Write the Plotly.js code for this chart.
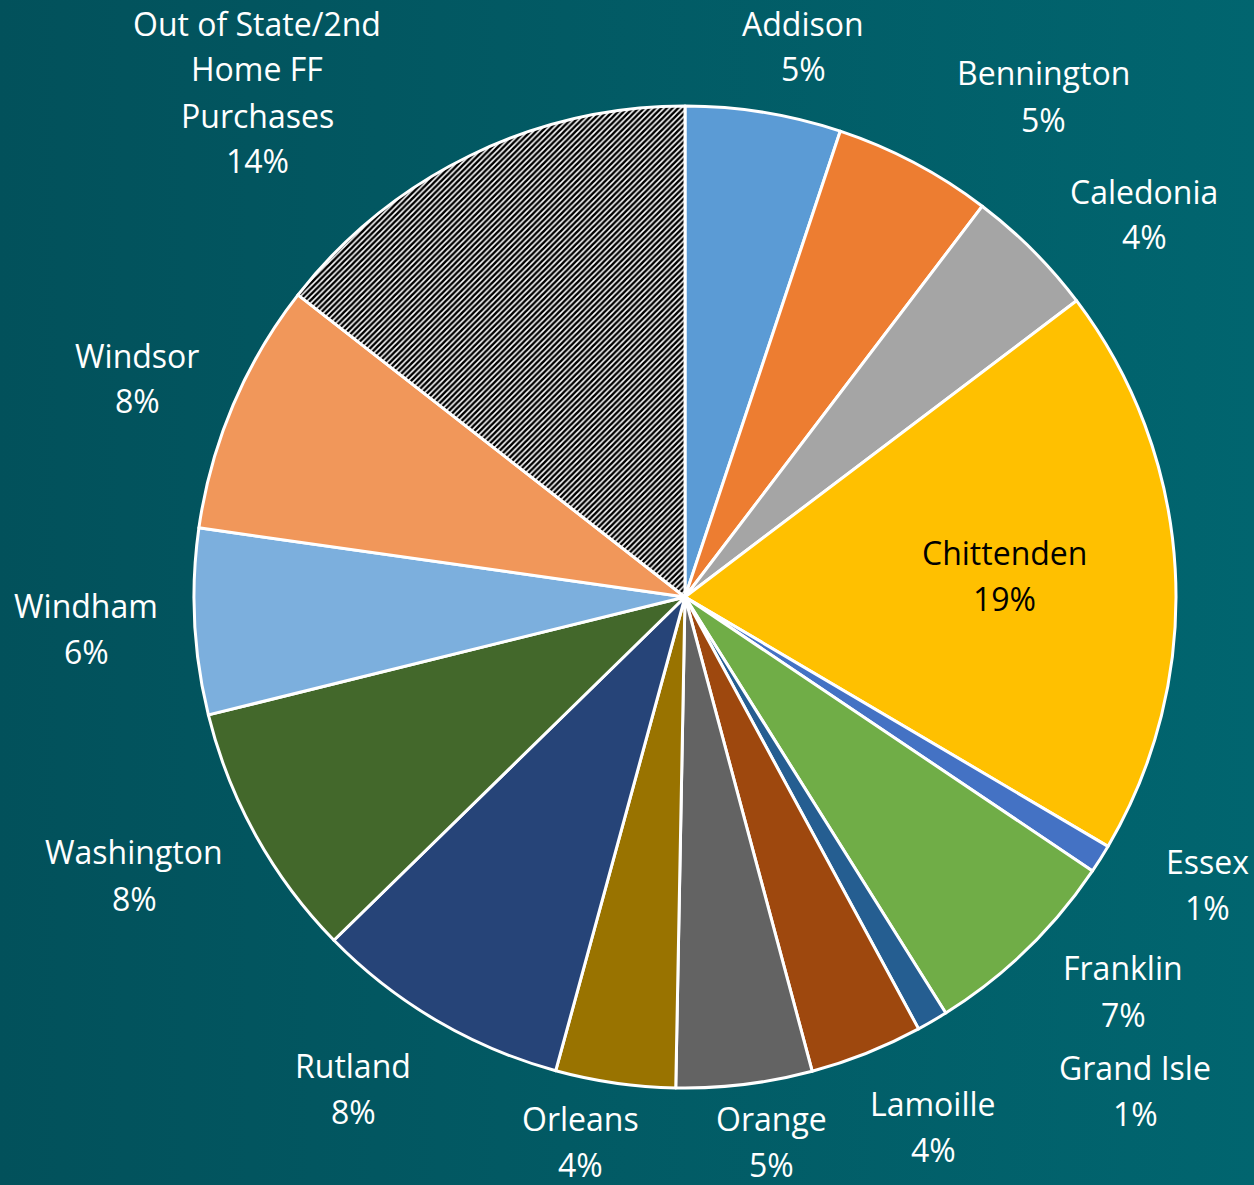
<!DOCTYPE html>
<html>
<head>
<meta charset="utf-8">
<script src="https://cdn.plot.ly/plotly-3.0.1.min.js"></script>
<style>
  html, body { margin: 0; padding: 0; }
  body { background: linear-gradient(to right, #02515B 0%, #025A64 45%, #01656F 100%); width: 1254px; height: 1185px; overflow: hidden; }
  #chart { width: 1254px; height: 1185px; }
</style>
</head>
<body>
<div id="chart"></div>
<script>
// ---- data ----
const counties = ['Addison', 'Bennington', 'Caledonia', 'Chittenden', 'Essex', 'Franklin',
  'Grand Isle', 'Lamoille', 'Orange', 'Orleans', 'Rutland', 'Washington', 'Windham', 'Windsor',
  'Out of State/2nd Home FF Purchases'];
// slice sizes as drawn (share of the full circle, %)
const shares = [5.12, 5.23, 4.34, 18.79, 0.94, 6.67, 1.02, 3.72, 4.47, 3.94, 8.44, 8.46, 6.11, 8.30, 14.45];
// percentage labels as printed on the chart
const shareLabels = ['5%', '5%', '4%', '19%', '1%', '7%', '1%', '4%', '5%', '4%', '8%', '8%', '6%', '8%', '14%'];
// label line breaks as printed
const labelNames = ['Addison', 'Bennington', 'Caledonia', 'Chittenden', 'Essex', 'Franklin',
  'Grand Isle', 'Lamoille', 'Orange', 'Orleans', 'Rutland', 'Washington', 'Windham', 'Windsor',
  'Out of State/2nd<br>Home FF<br>Purchases'];

// ---- styles ----
const sliceColors = ['#5B9BD5', '#ED7D31', '#A5A5A5', '#FFC000', '#4472C4', '#70AD47', '#255E91',
  '#9E480E', '#636363', '#997300', '#264478', '#43682B', '#7CAFDD', '#F1975A', '#FFFFFF'];
const patternShapes = ['', '', '', '', '', '', '', '', '', '', '', '', '', '', '/'];
const labelColors = counties.map(c => c === 'Chittenden' ? '#000000' : '#FFFFFF');
// label block centres in page pixels [x, y]
const labelPos = [[803, 46], [1043, 96], [1144, 214], [1004, 575], [1207, 884], [1123, 991],
  [1135, 1090], [933, 1126], [771, 1141], [580, 1141], [353, 1088], [134, 875], [86, 628],
  [137, 378], [257, 92]];
const lineGap = 46;

const W = 1254, H = 1185;
const cx = 685, cy = 597, R = 491;

const trace = {
  type: 'pie',
  labels: counties,
  values: shares,
  sort: false,
  direction: 'clockwise',
  rotation: 0,
  textinfo: 'none',
  hoverinfo: 'label+percent',
  showlegend: false,
  domain: { x: [(cx - R) / W, (cx + R) / W], y: [1 - (cy + R) / H, 1 - (cy - R) / H] },
  marker: {
    colors: sliceColors,
    line: { color: '#FFFFFF', width: 3 },
    pattern: { shape: patternShapes, fgcolor: '#000000', bgcolor: '#FFFFFF', size: 4, solidity: 0.62 }
  }
};

const annotations = [];
counties.forEach((c, i) => {
  const lines = labelNames[i].split('<br>').concat([shareLabels[i]]);
  const n = lines.length;
  lines.forEach((ln, k) => {
    const py = labelPos[i][1] + (k - (n - 1) / 2) * lineGap;
    annotations.push({
      xref: 'paper', yref: 'paper',
      x: labelPos[i][0] / W, y: 1 - py / H,
      xanchor: 'center', yanchor: 'middle',
      text: ln,
      showarrow: false,
      font: { family: '"Open Sans", "Noto Sans", sans-serif', size: 32, color: labelColors[i] }
    });
  });
});

const layout = {
  width: W, height: H,
  margin: { l: 0, r: 0, t: 0, b: 0 },
  paper_bgcolor: 'rgba(0,0,0,0)',
  plot_bgcolor: 'rgba(0,0,0,0)',
  showlegend: false,
  annotations: annotations
};

Plotly.newPlot('chart', [trace], layout, { displayModeBar: false, staticPlot: true });
</script>
</body>
</html>
